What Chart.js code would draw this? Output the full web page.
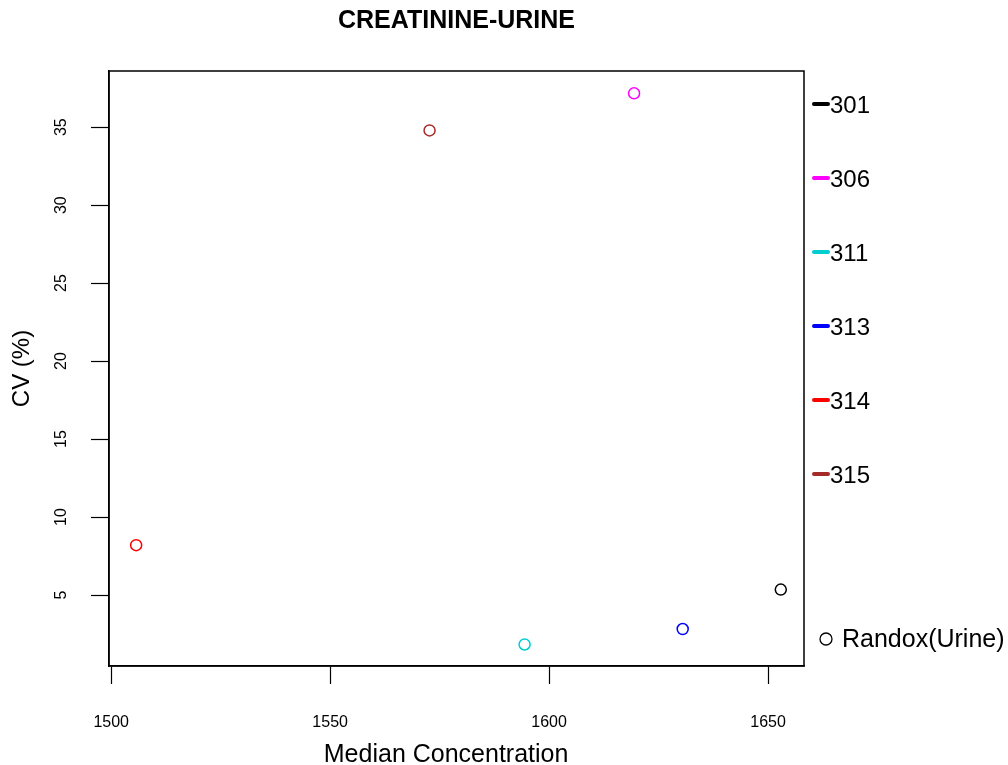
<!DOCTYPE html>
<html>
<head>
<meta charset="utf-8">
<script src="https://cdn.jsdelivr.net/npm/chart.js@4"></script>
<style>
  html, body { margin: 0; padding: 0; background: #fff; }
  canvas { display: block; }
</style>
</head>
<body>
<canvas id="cvChart" width="1008" height="765"></canvas>
<script>
// lab codes and their values
const labIds = ['301', '306', '311', '313', '314', '315'];
const medianConc = [1652.9, 1619.4, 1594.4, 1630.5, 1505.7, 1572.7];
const cvPercent = [5.35, 37.17, 1.83, 2.82, 8.2, 34.79];
const labColors = ['#000000', '#FF00FF', '#00CED1', '#0000FF', '#FF0000', '#A52A2A'];

const xTicks = [1500, 1550, 1600, 1650];
const yTicks = [5, 10, 15, 20, 25, 30, 35];
const pointLegend = 'Randox(Urine)';

const FONT = '"Liberation Sans", Arial, sans-serif';

document.addEventListener("DOMContentLoaded", function () {
    const ctx = document.getElementById('cvChart').getContext('2d');

    const datasets = labIds.map((id, i) => ({
        label: id,
        data: [{ x: medianConc[i], y: cvPercent[i] }],
        borderColor: labColors[i],
        backgroundColor: 'rgba(0,0,0,0)',
        pointRadius: 5.5,
        pointBorderWidth: 1.5,
        pointStyle: 'circle'
    }));

    // box round the plot + legend on the right, R style
    const boxAndLegend = {
        id: 'boxAndLegend',
        afterDraw(chart) {
            const c = chart.ctx;
            const a = chart.chartArea;
            c.save();
            c.strokeStyle = '#000';
            c.lineWidth = 1.5;
            c.strokeRect(a.left, a.top, a.right - a.left, a.bottom - a.top);

            c.font = '24px ' + FONT;
            c.textBaseline = 'middle';
            c.textAlign = 'left';
            labIds.forEach((id, i) => {
                const y = a.top + 33 + i * 74;
                c.strokeStyle = labColors[i];
                c.lineWidth = 4;
                c.lineCap = 'round';
                c.beginPath();
                c.moveTo(a.right + 10, y);
                c.lineTo(a.right + 24, y);
                c.stroke();
                c.fillStyle = '#000';
                c.fillText(id, a.right + 26, y + 2);
            });

            const ry = a.bottom - 27;
            c.strokeStyle = '#000';
            c.lineWidth = 1.3;
            c.beginPath();
            c.arc(a.right + 22, ry, 6, 0, Math.PI * 2);
            c.stroke();
            c.font = '25px ' + FONT;
            c.fillStyle = '#000';
            c.fillText(pointLegend, a.right + 38, ry + 1);
            c.restore();
        }
    };

    new Chart(ctx, {
        type: 'scatter',
        data: { datasets: datasets },
        options: {
            responsive: false,
            animation: false,
            layout: { padding: { left: 0, right: 204, top: 0, bottom: 0 } },
            scales: {
                x: {
                    type: 'linear',
                    min: 1499.5,
                    max: 1658.2,
                    afterBuildTicks: s => { s.ticks = xTicks.map(v => ({ value: v })); },
                    afterFit: s => { s.height = 99; },
                    grid: { display: true, drawOnChartArea: false, drawTicks: true, tickLength: 18, tickColor: '#000', tickWidth: 1.2 },
                    border: { display: true, color: '#000', width: 1.5 },
                    ticks: {
                        color: '#000', padding: 29, maxRotation: 0,
                        font: { family: FONT, size: 16 },
                        callback: v => String(v)
                    },
                    title: {
                        display: true,
                        // trailing spaces nudge the centred title left, as in the original
                        text: 'Median Concentration   ',
                        color: '#000',
                        font: { family: FONT, size: 25, lineHeight: 0.8 },
                        padding: { top: 0, bottom: 0 }
                    }
                },
                y: {
                    type: 'linear',
                    min: 0.45,
                    max: 38.6,
                    afterBuildTicks: s => { s.ticks = yTicks.map(v => ({ value: v })); },
                    afterFit: s => { s.width = 109; },
                    grid: { display: true, drawOnChartArea: false, drawTicks: true, tickLength: 18, tickColor: '#000', tickWidth: 1.2 },
                    border: { display: true, color: '#000', width: 1.5 },
                    ticks: {
                        color: '#000', padding: 21, crossAlign: 'center',
                        minRotation: 90, maxRotation: 90,
                        font: { family: FONT, size: 16 },
                        callback: v => String(v)
                    },
                    title: {
                        display: true,
                        text: 'CV (%)',
                        color: '#000',
                        font: { family: FONT, size: 24 },
                        padding: { top: 8, bottom: 0 }
                    }
                }
            },
            plugins: {
                legend: { display: false },
                tooltip: { enabled: false },
                title: {
                    display: true,
                    text: 'CREATININE-URINE',
                    color: '#000',
                    fullSize: false,
                    font: { family: FONT, size: 25, weight: 'bold' },
                    padding: { top: 6, bottom: 35 }
                }
            }
        },
        plugins: [boxAndLegend]
    });
});
</script>
</body>
</html>
